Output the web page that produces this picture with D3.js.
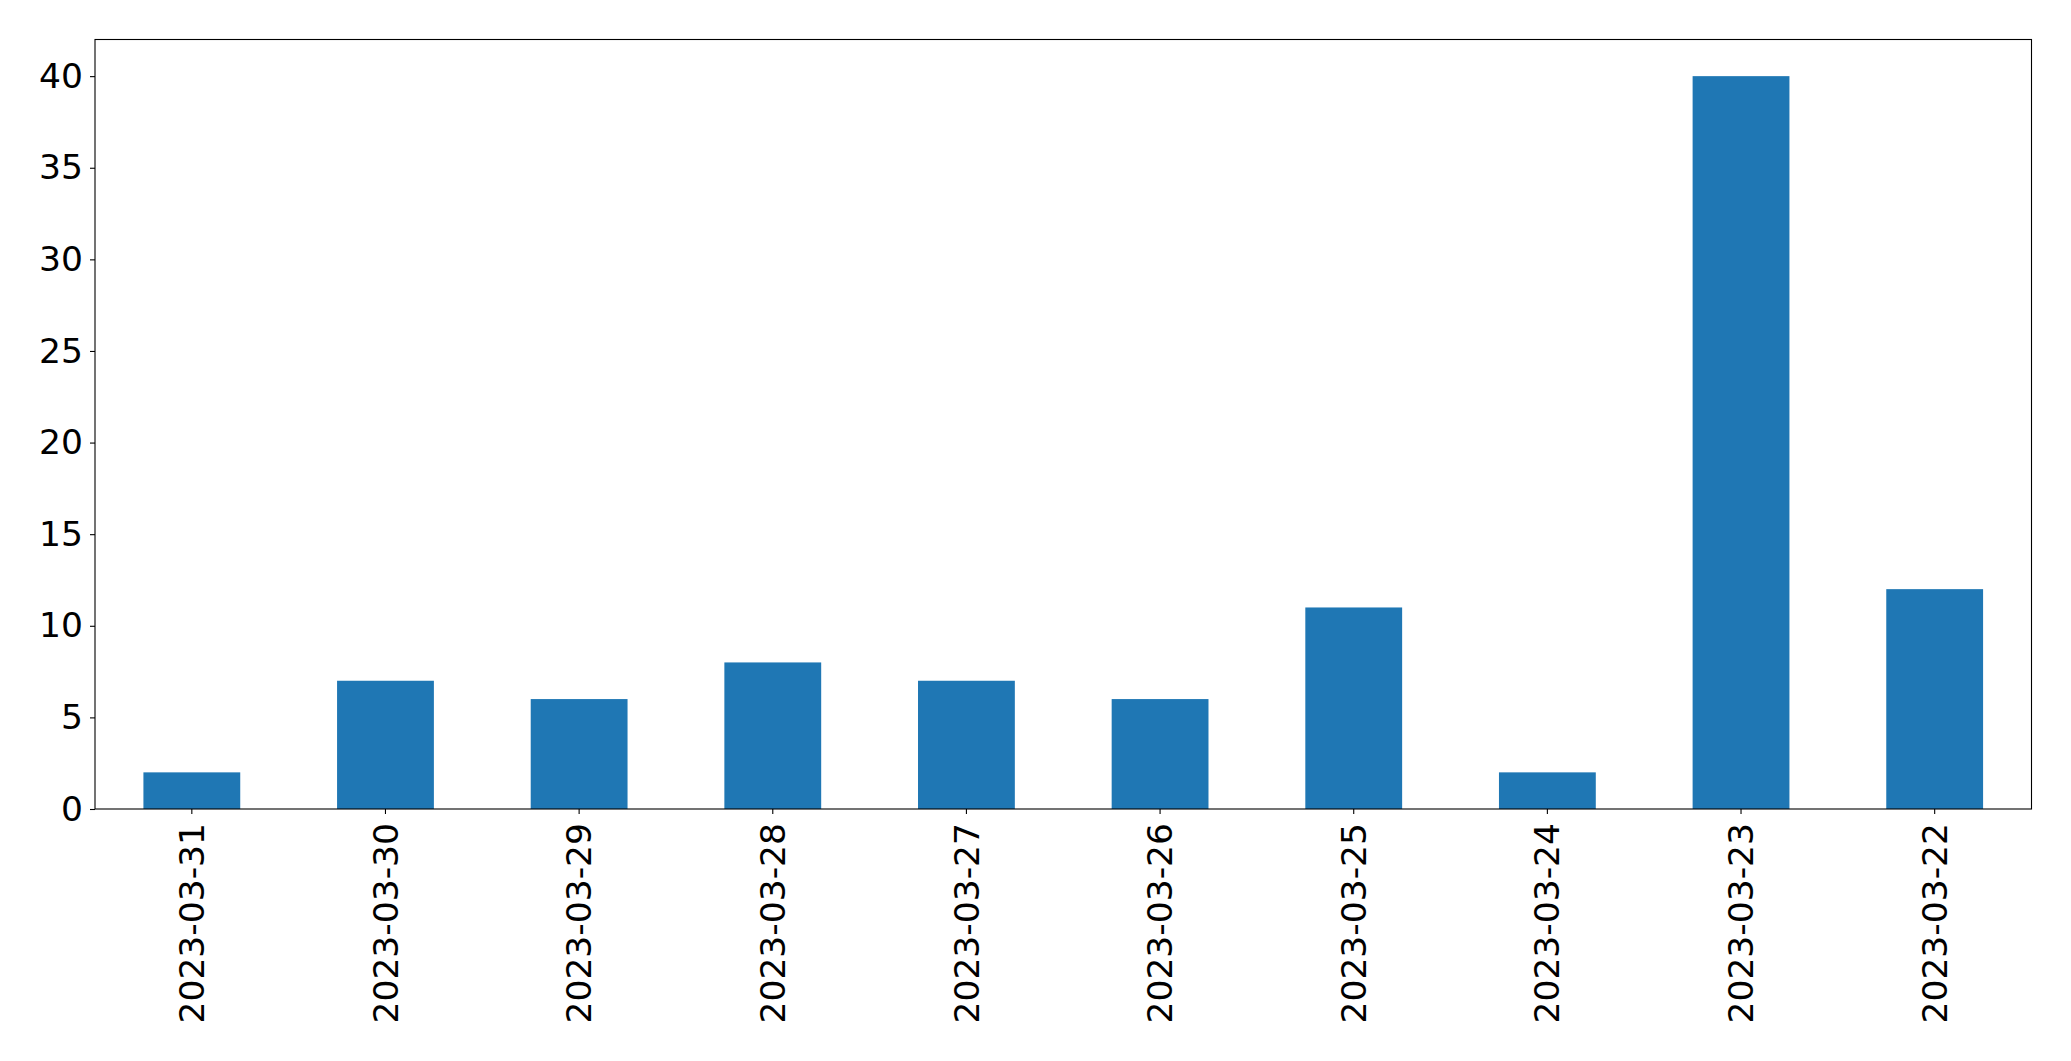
<!DOCTYPE html>
<html>
<head>
<meta charset="utf-8">
<script src="https://cdn.jsdelivr.net/npm/d3@7"></script>
<style>
  body { margin: 0; background: white; }
  svg { display: block; }
</style>
</head>
<body>
<div id="chart"></div>
<script>
// data
const dates = ["2023-03-31", "2023-03-30", "2023-03-29", "2023-03-28", "2023-03-27",
               "2023-03-26", "2023-03-25", "2023-03-24", "2023-03-23", "2023-03-22"];
const counts = [2, 7, 6, 8, 7, 6, 11, 2, 40, 12];
const yTicks = [0, 5, 10, 15, 20, 25, 30, 35, 40];

const W = 2071, H = 1061;
const margin = { top: 39.5, right: 39.5, bottom: 252, left: 95 },
    width = W - margin.left - margin.right,
    height = H - margin.top - margin.bottom;

const svg = d3.select("#chart")
    .append("svg")
    .attr("width", W)
    .attr("height", H)
    .append("g")
    .attr("transform", `translate(${margin.left}, ${margin.top})`);

const xScale = d3.scaleBand().domain(dates).range([0, width]).paddingInner(0.5).paddingOuter(0.25);
const yScale = d3.scaleLinear().domain([0, 42]).range([height, 0]);

// bars
svg.selectAll(".bar")
    .data(dates.map((d, i) => ({ date: d, value: counts[i] })))
    .enter().append("rect")
    .attr("class", "bar")
    .attr("x", d => xScale(d.date))
    .attr("y", d => yScale(d.value))
    .attr("width", xScale.bandwidth())
    .attr("height", d => height - yScale(d.value))
    .attr("fill", "#1f77b4");

// y axis
const yAxis = svg.append("g")
    .call(d3.axisLeft(yScale).tickValues(yTicks).tickSize(5).tickPadding(7));
yAxis.select(".domain").remove();
yAxis.selectAll("line").attr("stroke", "black").attr("stroke-width", 1.1);
yAxis.selectAll("text")
    .style("font-family", "DejaVu Sans")
    .style("font-size", "34.5px")
    .style("fill", "black");

// x axis with rotated date labels
const xAxis = svg.append("g")
    .attr("transform", `translate(0, ${height})`)
    .call(d3.axisBottom(xScale).tickSize(5).tickPadding(5));
xAxis.select(".domain").remove();
xAxis.selectAll("line").attr("stroke", "black").attr("stroke-width", 1.1);
xAxis.selectAll("text")
    .attr("transform", "rotate(-90)")
    .attr("x", -14)
    .attr("y", 0)
    .attr("dy", "0.35em")
    .style("text-anchor", "end")
    .style("font-family", "DejaVu Sans")
    .style("font-size", "34.5px")
    .style("fill", "black");

// frame around the plot area
svg.append("rect")
    .attr("x", 0)
    .attr("y", 0)
    .attr("width", width)
    .attr("height", height)
    .attr("fill", "none")
    .attr("stroke", "black")
    .attr("stroke-width", 1.1);
</script>
</body>
</html>
